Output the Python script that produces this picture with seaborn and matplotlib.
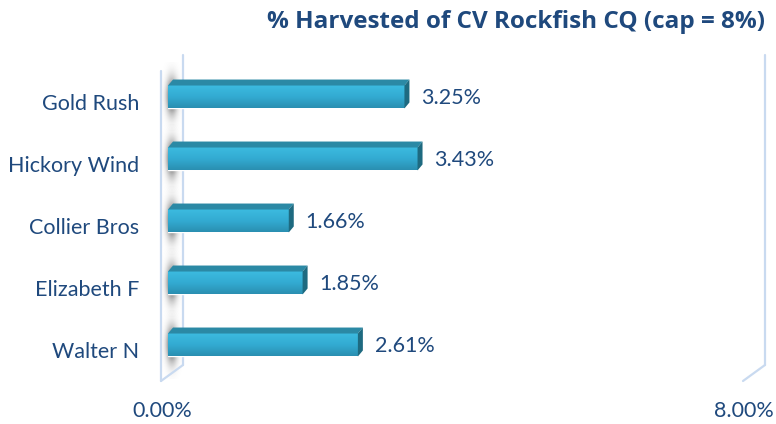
import numpy as np
import pandas as pd
import matplotlib
matplotlib.use("Agg")
import matplotlib.pyplot as plt
import seaborn as sns
from matplotlib.colors import LinearSegmentedColormap
from matplotlib.lines import Line2D
from matplotlib.patches import Polygon
from matplotlib.transforms import IdentityTransform, ScaledTranslation

# data
vessels = ["Gold Rush", "Hickory Wind", "Collier Bros", "Elizabeth F", "Walter N"]
harvested = [3.25, 3.43, 1.66, 1.85, 2.61]
x_ticks = [0, 8]
x_tick_labels = ["0.00%", "8.00%"]
title = "% Harvested of CV Rockfish CQ (cap = 8%)"

TXT = "#1f497d"
WALL = "#c9daf0"

sns.set_theme(style="white")
plt.rcParams["font.family"] = ["Lato", "DejaVu Sans"]

W, H = 776, 424
fig = plt.figure(figsize=(W / 100, H / 100), dpi=100)
ax = fig.add_axes([168 / W, 1 - 376 / H, 582 / W, 310 / H])

df = pd.DataFrame({"vessel": vessels, "pct": harvested})
sns.barplot(data=df, x="pct", y="vessel", orient="h", width=0.37,
            color="#33aed3", saturation=1, ax=ax, zorder=3)
ax.set_xlim(0, 8)
ax.set_ylim(4.5, -0.5)
sns.despine(ax=ax, left=True, bottom=True)
ax.set_xlabel("")
ax.set_ylabel("")


def shift(dx, dy):
    # pixel offset, dy positive = down on the image
    return ScaledTranslation(dx / 100, -dy / 100, fig.dpi_scale_trans)


# 3d box walls
front = ax.transData + shift(-7, 5)
back = ax.transData + shift(15, -11)
y0, y1 = ax.get_ylim()
ax.plot([0, 0], [y0, y1], transform=front, color=WALL, lw=1.6, clip_on=False, zorder=1)
ax.plot([0, 0], [y0, y1], transform=back, color=WALL, lw=1.6, clip_on=False, zorder=1)
ax.plot([8, 8], [y0, y1], transform=back, color=WALL, lw=1.6, clip_on=False, zorder=1)
for xv in (0, 8):
    a = front.transform((xv, y0))
    b = back.transform((xv, y0))
    fig.add_artist(Line2D([a[0], b[0]], [a[1], b[1]], color=WALL, lw=1.6,
                          transform=IdentityTransform()))

# soft shadows on the left wall
ppu = 582 / 8
xs = np.linspace(-6, 14, 40)
ys = np.linspace(-0.55, 0.55, 80)
hx = np.exp(-((xs - 4) / 5.5) ** 2)
vy = np.exp(-(ys / 0.28) ** 2)
alpha = np.outer(vy, hx)
shade = np.zeros((len(ys), len(xs), 4))
shade[..., :3] = 0.35
shade[..., 3] = alpha
for i in range(len(vessels)):
    ax.imshow(shade, extent=[-6 / ppu, 14 / ppu, i + 0.55, i - 0.55],
              aspect="auto", zorder=2, clip_on=False, interpolation="bilinear")

# bar faces
grad_cmap = LinearSegmentedColormap.from_list("bar", ["#3cbbe0", "#33abd2", "#2a8fb1"])
grad = np.linspace(0, 1, 64).reshape(-1, 1)
for p in list(ax.patches):
    x0, w = p.get_x(), p.get_width()
    yb, h = p.get_y(), p.get_height()
    ax.imshow(grad, extent=[x0, x0 + w, yb + h, yb], cmap=grad_cmap,
              aspect="auto", zorder=4, interpolation="bilinear")
    (X0, Ya), (X1, Yb) = ax.transData.transform([(x0, yb), (x0 + w, yb + h)])
    top, bot = max(Ya, Yb), min(Ya, Yb)
    dx, dy = 5, 6
    fig.add_artist(Polygon([(X0, top), (X1, top), (X1 + dx, top + dy), (X0 + dx, top + dy)],
                           closed=True, fc="#2b89a5", ec="none", transform=IdentityTransform()))
    fig.add_artist(Polygon([(X1, top), (X1, bot), (X1 + dx, bot + dy), (X1 + dx, top + dy)],
                           closed=True, fc="#1e6a80", ec="none", transform=IdentityTransform()))

ax.set_xlim(0, 8)
ax.set_ylim(4.5, -0.5)

# value labels
for i, v in enumerate(harvested):
    ax.text(v, i, f"{v:.2f}%", transform=ax.transData + shift(17, 1),
            ha="left", va="center", fontsize=15.5, color=TXT, zorder=6)

# ticks
ax.set_xticks(x_ticks)
ax.set_xticklabels(x_tick_labels, fontsize=15.5, color=TXT)
ax.tick_params(axis="x", length=0, pad=18)
ax.tick_params(axis="y", length=0, pad=20.5, labelsize=15.5, labelcolor=TXT)
for lab in ax.get_xticklabels():
    lab.set_transform(lab.get_transform() + shift(-6, 0))
for lab in ax.get_yticklabels():
    lab.set_transform(lab.get_transform() + shift(0, 5))

fig.text(765 / W, 1 - 22 / H, title, ha="right", va="center",
         fontsize=17.5, fontweight="bold", color=TXT,
         family=["Open Sans", "DejaVu Sans"])

fig.savefig("out.png", dpi=100)
